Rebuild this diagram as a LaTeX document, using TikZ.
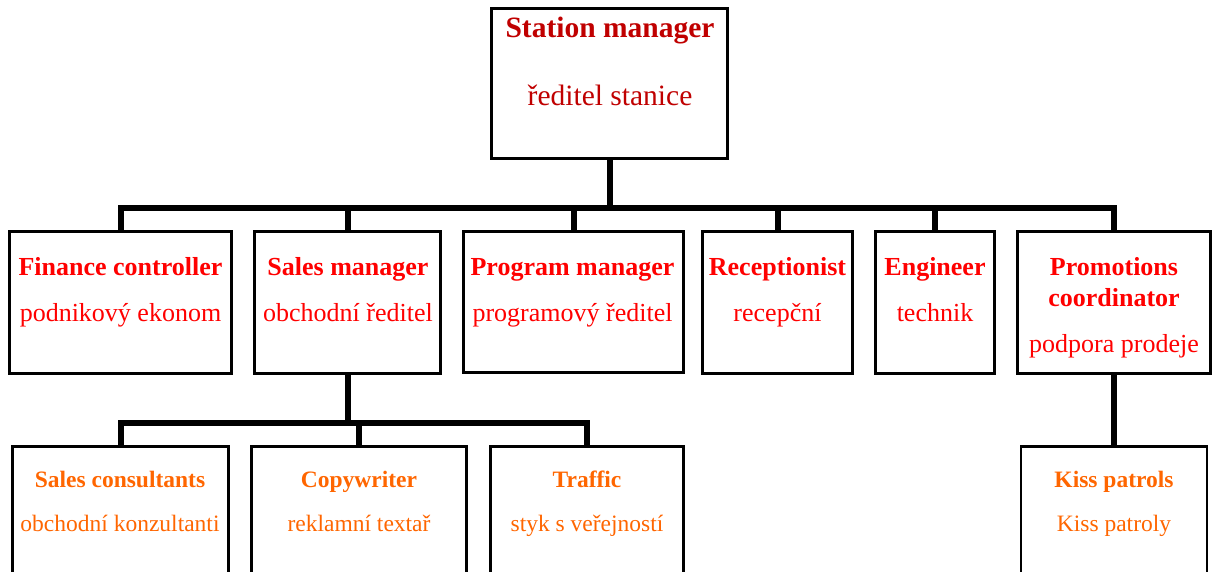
\documentclass[tikz,border=0pt]{standalone}
\usepackage{fontspec}
\setmainfont{Liberation Serif}
\definecolor{darkred}{RGB}{192,0,0}
\definecolor{brightred}{RGB}{255,0,0}
\definecolor{orangec}{RGB}{255,102,0}
\begin{document}
\begin{tikzpicture}[x=1pt,y=-1pt,
  box/.style={draw=black,line width=1.6pt,fill=white,inner sep=0pt,rectangle},
  conn/.style={draw=black,line width=6pt,line join=miter,line cap=butt},
  toptitle/.style={anchor=base,inner sep=0pt,text=darkred,font=\fontsize{29.5}{33}\selectfont\bfseries},
  topsub/.style={anchor=base,inner sep=0pt,text=darkred,font=\fontsize{29.5}{33}\selectfont},
  midtitle/.style={anchor=base,inner sep=0pt,text=brightred,font=\fontsize{26}{30}\selectfont\bfseries},
  midsub/.style={anchor=base,inner sep=0pt,text=brightred,font=\fontsize{26}{30}\selectfont},
  lowtitle/.style={anchor=base,inner sep=0pt,text=orangec,font=\fontsize{23.5}{27}\selectfont\bfseries},
  lowsub/.style={anchor=base,inner sep=0pt,text=orangec,font=\fontsize{23.5}{27}\selectfont}]
\useasboundingbox (0,0) rectangle (1214,572);
\clip (0,0) rectangle (1214,572);
\coordinate (bar1) at (0,208);
\coordinate (bar2) at (0,423);
% boxes
\path (609.5,83.5) node[box,minimum width=235pt,minimum height=149pt] (sm) {};
\path (120.5,302.5) node[box,minimum width=221pt,minimum height=141pt] (fc) {};
\path (347.5,302.5) node[box,minimum width=185pt,minimum height=141pt] (sa) {};
\path (573.5,302) node[box,minimum width=219pt,minimum height=140pt] (pm) {};
\path (777.5,302.5) node[box,minimum width=149pt,minimum height=141pt] (re) {};
\path (935,302.5) node[box,minimum width=118pt,minimum height=141pt] (en) {};
\path (1114,302.5) node[box,minimum width=192pt,minimum height=141pt] (pc) {};
\path (120.5,520) node[box,minimum width=215pt,minimum height=146pt] (sc) {};
\path (359,520) node[box,minimum width=214pt,minimum height=146pt] (cw) {};
\path (587,520) node[box,minimum width=192pt,minimum height=146pt] (tr) {};
\path (1114,520) node[box,minimum width=185pt,minimum height=146pt] (kp) {};
% connectors
\draw[conn] (sm.south) -- (sm.south |- bar1);
\draw[conn] (fc.north) -- (fc.north |- bar1) -- (pc.north |- bar1) -- (pc.north);
\draw[conn] (sa.north |- bar1) -- (sa.north);
\draw[conn] (pm.north |- bar1) -- (pm.north);
\draw[conn] (re.north |- bar1) -- (re.north);
\draw[conn] (en.north |- bar1) -- (en.north);
\draw[conn] (sa.south) -- (sa.south |- bar2);
\draw[conn] (sc.north) -- (sc.north |- bar2) -- (tr.north |- bar2) -- (tr.north);
\draw[conn] (cw.north |- bar2) -- (cw.north);
\draw[conn] (pc.south) -- (kp.north);
% redraw box borders on top of connector ends
\foreach \n in {sm,fc,sa,pm,re,en,pc,sc,cw,tr,kp}{
  \draw[line width=1.6pt] (\n.north west) rectangle (\n.south east);
}
% texts
\node[toptitle] (t-sm) at (610,38) {Station manager};
\node[topsub] (s-sm) at (610,106) {ředitel stanice};
\node[midtitle] (t-fc) at (120.5,275) {Finance controller};
\node[midsub] (s-fc) at (120.5,321) {podnikový ekonom};
\node[midtitle] (t-sa) at (348,275) {Sales manager};
\node[midsub] (s-sa) at (348,321) {obchodní ředitel};
\node[midtitle] (t-pm) at (572.5,275) {Program manager};
\node[midsub] (s-pm) at (572.5,321) {programový ředitel};
\node[midtitle] (t-re) at (777.5,275) {Receptionist};
\node[midsub] (s-re) at (777.5,321) {recepční};
\node[midtitle] (t-en) at (935,275) {Engineer};
\node[midsub] (s-en) at (935,321) {technik};
\node[midtitle] (t-pc) at (1114,275) {Promotions};
\node[midtitle] (t-pc2) at (1114,306) {coordinator};
\node[midsub] (s-pc) at (1114,352) {podpora prodeje};
\node[lowtitle] (t-sc) at (120,487) {Sales consultants};
\node[lowsub] (s-sc) at (120,531) {obchodní konzultanti};
\node[lowtitle] (t-cw) at (359,487) {Copywriter};
\node[lowsub] (s-cw) at (359,531) {reklamní textař};
\node[lowtitle] (t-tr) at (587,487) {Traffic};
\node[lowsub] (s-tr) at (587,531) {styk s veřejností};
\node[lowtitle] (t-kp) at (1114,487) {Kiss patrols};
\node[lowsub] (s-kp) at (1114,531) {Kiss patroly};
\end{tikzpicture}
\end{document}
